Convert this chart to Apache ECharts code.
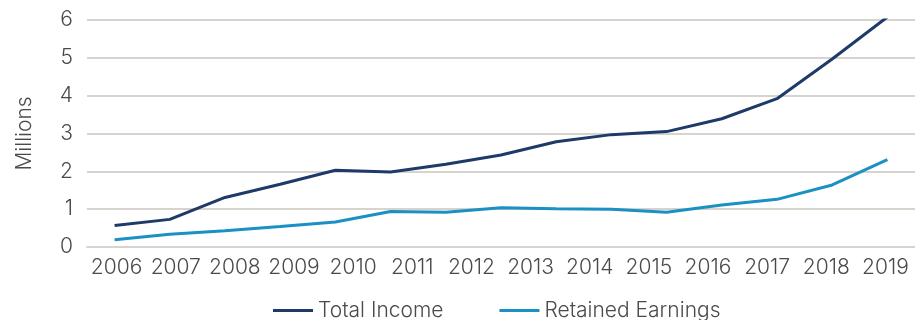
<!DOCTYPE html>
<html>
<head>
<meta charset="utf-8">
<script src="https://cdn.jsdelivr.net/npm/echarts@6/dist/echarts.min.js"></script>
<style>
  html, body { margin: 0; padding: 0; background: #fff; }
  #chart { width: 915px; height: 320px; }
</style>
</head>
<body>
<div id="chart"></div>
<script>
// year labels shown on the axis
var years = ['2006', '2007', '2008', '2009', '2010', '2011', '2012', '2013', '2014', '2015', '2016', '2017', '2018', '2019'];
// the lines have 15 readings spread over the same span
var periods = ['1', '2', '3', '4', '5', '6', '7', '8', '9', '10', '11', '12', '13', '14', '15'];
var totalIncome = [0.57, 0.73, 1.31, 1.66, 2.03, 1.98, 2.19, 2.43, 2.78, 2.97, 3.05, 3.39, 3.92, 4.97, 6.08];
var retainedEarnings = [0.19, 0.34, 0.43, 0.54, 0.66, 0.94, 0.92, 1.04, 1.01, 1.00, 0.92, 1.11, 1.26, 1.64, 2.31];

var textColor = '#4a4a4a';
var font = 'Inter';

var chart = echarts.init(document.getElementById('chart'));

var option = {
    animation: false,
    textStyle: { fontFamily: font },
    grid: {
        left: 87,
        right: -2,
        top: 20,
        bottom: 73
    },
    legend: {
        left: 268,
        top: 295,
        itemWidth: 40,
        itemHeight: 3,
        itemGap: 56,
        icon: 'rect',
        textStyle: { color: textColor, fontSize: 21, fontFamily: font, fontWeight: 300 },
        data: ['Total Income', 'Retained Earnings']
    },
    xAxis: [{
        type: 'category',
        data: years,
        boundaryGap: true,
        axisLine: { show: true, lineStyle: { color: '#d8d3cc', width: 2 } },
        axisTick: { show: false },
        axisLabel: { color: textColor, fontSize: 21, fontWeight: 300, margin: 10, interval: 0 }
    }, {
        type: 'category',
        data: periods,
        boundaryGap: true,
        show: false
    }],
    yAxis: {
        type: 'value',
        min: 0,
        max: 6,
        interval: 1,
        name: 'Millions',
        nameLocation: 'middle',
        nameGap: 52,
        nameTextStyle: { color: textColor, fontSize: 21, fontWeight: 300, fontFamily: font },
        axisLine: { show: false },
        axisTick: { show: false },
        axisLabel: { color: textColor, fontSize: 21, fontWeight: 300, margin: 14 },
        splitLine: { lineStyle: { color: '#d8d3cc', width: 2 } }
    },
    series: [{
        name: 'Total Income',
        type: 'line',
        xAxisIndex: 1,
        data: totalIncome,
        symbol: 'none',
        lineStyle: { color: '#1d3a68', width: 3 },
        itemStyle: { color: '#1d3a68' }
    }, {
        name: 'Retained Earnings',
        type: 'line',
        xAxisIndex: 1,
        data: retainedEarnings,
        symbol: 'none',
        lineStyle: { color: '#1a90c3', width: 3 },
        itemStyle: { color: '#1a90c3' }
    }]
};

chart.setOption(option);
</script>
</body>
</html>
